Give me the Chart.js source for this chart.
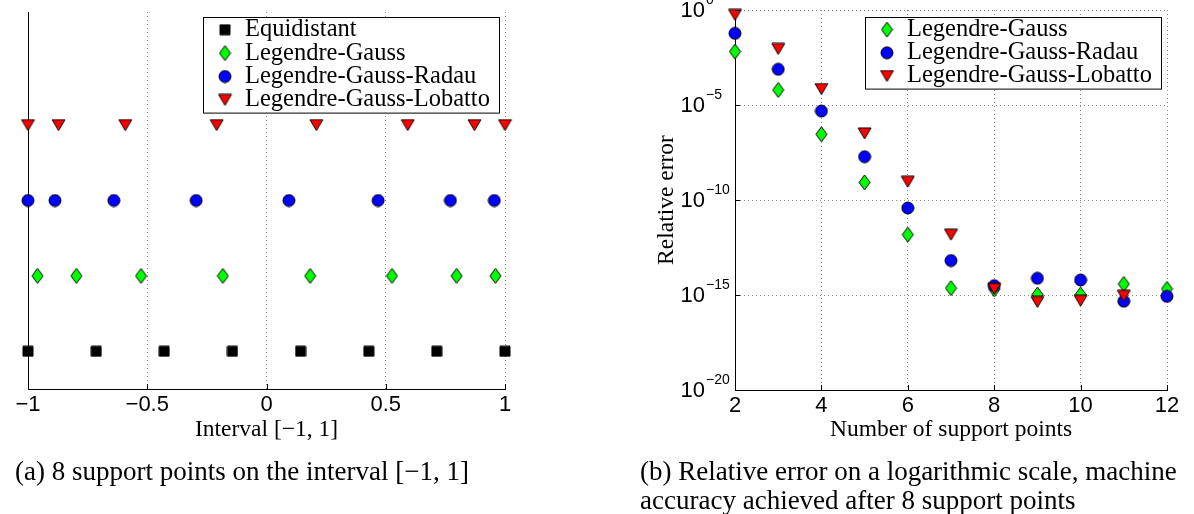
<!DOCTYPE html>
<html lang="en">
<head>
<meta charset="UTF-8">
<script src="https://cdn.jsdelivr.net/npm/chart.js"></script>
<style>
    body { margin: 0; width: 1194px; height: 514px; background: #fff; position: relative; overflow: hidden; }
    .panel { position: absolute; top: 0; }
    .caption { position: absolute; font-family: "Liberation Serif", serif; font-size: 27px; line-height: 29px; color: #000; white-space: nowrap; }
</style>
</head>
<body>
<div class="panel" style="left:0"><canvas id="nodes" width="560" height="460"></canvas></div>
<div class="panel" style="left:620px"><canvas id="error" width="574" height="460"></canvas></div>
<div class="caption" style="left:15px; top:457px">(a) 8 support points on the interval [−1, 1]</div>
<div class="caption" style="left:640px; top:457px">(b) Relative error on a logarithmic scale, machine<br>accuracy achieved after 8 support points</div>
<script>
// left panel: 8 nodes of each family, one row per family
const equidistant = [-1, -0.714, -0.429, -0.143, 0.143, 0.429, 0.714, 1];
const gaussNodes = [-0.960, -0.797, -0.526, -0.183, 0.183, 0.526, 0.797, 0.960];
const radauNodes = [-1, -0.887, -0.640, -0.295, 0.094, 0.468, 0.771, 0.955];
const lobattoNodes = [-1, -0.872, -0.592, -0.209, 0.209, 0.592, 0.872, 1];
const nodeRows = [1, 2, 3, 4];
const nodeTicks = [-1, -0.5, 0, 0.5, 1];

// right panel: relative error against number of support points
const supportPoints = [2, 3, 4, 5, 6, 7, 8, 9, 10, 11, 12];
const errGauss = [6.5e-3, 6.2e-5, 2.9e-7, 8.5e-10, 1.5e-12, 2.3e-15, 2.0e-15, 1.05e-15, 1.05e-15, 3.8e-15, 2.1e-15];
const errRadau = [5.9e-2, 7.6e-4, 4.8e-6, 1.9e-8, 3.8e-11, 6.5e-14, 3.1e-15, 7.6e-15, 6.2e-15, 4.7e-16, 8.5e-16];
const errLobatto = [0.55, 8.9e-3, 6.9e-5, 3.2e-7, 9.1e-10, 1.5e-12, 2.1e-15, 4.3e-16, 5.0e-16, 9.1e-16, null];
const errExponents = [-20, -15, -10, -5, 0];

const serif = '"Liberation Serif", serif';
const sans = '"Liberation Sans", Arial, sans-serif';

// MATLAB-like markers with black edge
function marker(shape, fill, w, h) {
    const c = document.createElement('canvas');
    c.width = w + 2;
    c.height = h + 2;
    const g = c.getContext('2d');
    const cx = c.width / 2, cy = c.height / 2;
    g.fillStyle = fill;
    g.strokeStyle = '#000';
    g.lineWidth = 1;
    g.beginPath();
    if (shape === 'square') g.rect(1, 1, w, h);
    if (shape === 'circle') g.arc(cx, cy, w / 2, 0, Math.PI * 2);
    if (shape === 'diamond') {
        g.moveTo(cx, 1); g.lineTo(cx + w / 2, cy); g.lineTo(cx, cy + h / 2); g.lineTo(cx - w / 2, cy); g.closePath();
    }
    if (shape === 'down') {
        g.moveTo(1, 1); g.lineTo(w + 1, 1); g.lineTo(cx, h + 1); g.closePath();
    }
    g.fill();
    g.stroke();
    return c;
}
const mSquare = marker('square', '#000', 10, 10);
const mDiamond = marker('diamond', '#00ff00', 11, 15);
const mCircle = marker('circle', '#0000ff', 12, 12);
const mTriangle = marker('down', '#ff0000', 13, 11);

// legend box drawn inside the plot area
const boxLegend = {
    id: 'boxLegend',
    afterDatasetsDraw(chart, args, o) {
        const ctx = chart.ctx, a = chart.chartArea;
        const sets = chart.data.datasets;
        const x = a.right - o.right - o.width, y = a.top + o.top;
        const h = o.row * sets.length + o.pad * 2;
        ctx.save();
        ctx.fillStyle = '#fff';
        ctx.fillRect(x, y, o.width, h);
        ctx.strokeStyle = '#000';
        ctx.lineWidth = 1;
        ctx.strokeRect(Math.round(x) + 0.5, Math.round(y) + 0.5, o.width, h);
        ctx.font = o.font;
        ctx.fillStyle = '#000';
        ctx.textBaseline = 'middle';
        sets.forEach((ds, i) => {
            const cy = y + o.pad + o.row * (i + 0.5);
            const m = ds.pointStyle;
            ctx.drawImage(m, x + o.markerX - m.width / 2, cy - m.height / 2);
            ctx.fillText(ds.label, x + o.textX, cy);
        });
        ctx.restore();
    }
};

// short inward tick marks on the bottom and left axes
const innerTicks = {
    id: 'innerTicks',
    afterDraw(chart) {
        const ctx = chart.ctx, a = chart.chartArea;
        ctx.save();
        ctx.strokeStyle = '#000';
        ctx.lineWidth = 1;
        ctx.beginPath();
        chart.scales.x.ticks.forEach(t => {
            const px = Math.round(chart.scales.x.getPixelForValue(t.value)) + 0.5;
            ctx.moveTo(px, a.bottom); ctx.lineTo(px, a.bottom - 5);
        });
        if (chart.scales.y.type === 'logarithmic') {
            chart.scales.y.ticks.forEach(t => {
                const py = Math.round(chart.scales.y.getPixelForValue(t.value)) + 0.5;
                ctx.moveTo(a.left, py); ctx.lineTo(a.left + 5, py);
            });
        }
        ctx.stroke();
        ctx.restore();
    }
};

// 10^n labels with raised exponent
const powerLabels = {
    id: 'powerLabels',
    afterDraw(chart) {
        const ctx = chart.ctx, s = chart.scales.y;
        const xr = s.right - 30;
        ctx.save();
        ctx.fillStyle = '#000';
        ctx.textBaseline = 'middle';
        s.ticks.forEach(t => {
            const py = s.getPixelForValue(t.value);
            const e = Math.round(Math.log10(t.value));
            ctx.font = '22px ' + sans;
            ctx.textAlign = 'right';
            ctx.fillText('10', xr, py + 1);
            ctx.font = '14px ' + sans;
            ctx.textAlign = 'left';
            ctx.fillText(String(e).replace('-', '−'), xr + 1, py - 10);
        });
        ctx.restore();
    }
};

const gridDots = { display: true, color: '#8c8c8c', lineWidth: 1, drawTicks: false };
const axisLine = { display: true, color: '#000', width: 1, dash: [1, 3] };
const minus = v => (v < 0 ? '−' + Math.abs(v) : String(v));

function row(nodes, r) {
    return nodes.map(x => ({ x: x, y: r }));
}
function series(vals) {
    return supportPoints.map((n, i) => ({ x: n, y: vals[i] }));
}

Chart.defaults.font.family = sans;
Chart.defaults.color = '#000';

new Chart(document.getElementById('nodes'), {
    type: 'scatter',
    data: {
        datasets: [
            { label: 'Equidistant', data: row(equidistant, nodeRows[0]), pointStyle: mSquare, order: 3 },
            { label: 'Legendre-Gauss', data: row(gaussNodes, nodeRows[1]), pointStyle: mDiamond, order: 2 },
            { label: 'Legendre-Gauss-Radau', data: row(radauNodes, nodeRows[2]), pointStyle: mCircle, order: 1 },
            { label: 'Legendre-Gauss-Lobatto', data: row(lobattoNodes, nodeRows[3]), pointStyle: mTriangle, order: 0 }
        ]
    },
    options: {
        responsive: false,
        animation: false,
        clip: false,
        elements: { point: { radius: 6, hoverRadius: 6 } },
        layout: { padding: { top: 12, right: 55, left: 0, bottom: 0 } },
        plugins: {
            legend: { display: false },
            tooltip: { enabled: false },
            boxLegend: { width: 296, right: 6, top: 5, row: 23.4, pad: 1, markerX: 22, textX: 42, font: '24.5px ' + serif }
        },
        scales: {
            x: {
                type: 'linear', min: -1, max: 1,
                afterBuildTicks: s => { s.ticks = nodeTicks.map(v => ({ value: v })); },
                afterFit: s => { s.height = 71; },
                grid: gridDots,
                border: axisLine,
                ticks: { font: { size: 22 }, padding: 3, callback: minus, maxRotation: 0 },
                title: { display: true, text: 'Interval [−1, 1]', font: { family: serif, size: 23.5 }, padding: { bottom: 16 } }
            },
            y: {
                type: 'linear', min: 0.5, max: 5.5,
                afterFit: s => { s.width = 28; },
                grid: { display: false },
                border: { display: true, color: '#000', width: 1 },
                ticks: { display: false }
            }
        }
    },
    plugins: [boxLegend, innerTicks]
});

new Chart(document.getElementById('error'), {
    type: 'scatter',
    data: {
        datasets: [
            { label: 'Legendre-Gauss', data: series(errGauss), pointStyle: mDiamond, order: 2 },
            { label: 'Legendre-Gauss-Radau', data: series(errRadau), pointStyle: mCircle, order: 1 },
            { label: 'Legendre-Gauss-Lobatto', data: series(errLobatto), pointStyle: mTriangle, order: 0 }
        ]
    },
    options: {
        responsive: false,
        animation: false,
        clip: false,
        elements: { point: { radius: 6, hoverRadius: 6 } },
        layout: { padding: { top: 10, right: 27, left: 0, bottom: 0 } },
        plugins: {
            legend: { display: false },
            tooltip: { enabled: false },
            boxLegend: { width: 296, right: 6, top: 7, row: 23.2, pad: 1, markerX: 22, textX: 42, font: '24.5px ' + serif }
        },
        scales: {
            x: {
                type: 'linear', min: 2, max: 12,
                afterBuildTicks: s => { s.ticks = supportPoints.filter(n => n % 2 === 0).map(v => ({ value: v })); },
                afterFit: s => { s.height = 70; },
                grid: gridDots,
                border: axisLine,
                ticks: { font: { size: 22 }, padding: 3, maxRotation: 0 },
                title: { display: true, text: 'Number of support points', font: { family: serif, size: 23.5 }, padding: { bottom: 16 } }
            },
            y: {
                type: 'logarithmic', min: 1e-20, max: 1,
                afterBuildTicks: s => { s.ticks = errExponents.map(e => ({ value: Number('1e' + e) })); },
                afterFit: s => { s.width = 115; },
                grid: gridDots,
                border: axisLine,
                ticks: { display: false },
                title: { display: true, text: 'Relative error', font: { family: serif, size: 23.5 }, padding: { top: 33 } }
            }
        }
    },
    plugins: [boxLegend, innerTicks, powerLabels]
});
</script>
</body>
</html>
